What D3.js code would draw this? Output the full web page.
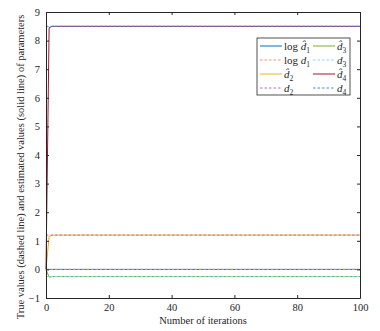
<!DOCTYPE html>
<html>
<head>
<meta charset="utf-8">
<script src="https://cdn.jsdelivr.net/npm/d3@7"></script>
<style>
  body { margin: 0; background: #fff; }
  text { font-family: "Liberation Serif", "DejaVu Serif", serif; fill: #262626; }
</style>
</head>
<body>
<div id="chart"></div>
<script>
// iterations where the estimates are sampled (flat after convergence)
let iters = [0, 1, 2, 3, 100];

// estimated values (solid lines)
let estD1 = [0, 0, 0, 0, 0];
let estD2 = [0, 1.15, 1.2, 1.2, 1.2];
let estD3 = [0, -0.27, -0.25, -0.25, -0.25];
let estD4 = [0, 8.45, 8.5, 8.5, 8.5];

// true values (dashed lines)
let trueD1 = 0;
let trueD2 = 1.2;
let trueD3 = -0.25;
let trueD4 = 8.5;

let xTicks = [0, 20, 40, 60, 80, 100];
let yTicks = [-1, 0, 1, 2, 3, 4, 5, 6, 7, 8, 9];

let series = [
  {name: "log d̂", sub: "1", values: estD1, color: "#0072BD", dash: null},
  {name: "log d", sub: "1", value: trueD1, color: "#F0906E", dash: "2.5,2"},
  {name: "d̂", sub: "2", values: estD2, color: "#EDB120", dash: null},
  {name: "d", sub: "2", value: trueD2, color: "#B070C0", dash: "2.5,2"},
  {name: "d̂", sub: "3", values: estD3, color: "#77AC30", dash: null},
  {name: "d", sub: "3", value: trueD3, color: "#8FD6F2", dash: "2.5,2"},
  {name: "d̂", sub: "4", values: estD4, color: "#A2142F", dash: null},
  {name: "d", sub: "4", value: trueD4, color: "#3A8FD6", dash: "2.5,2"}
];

let margin = {top: 12, right: 20, bottom: 33, left: 46};
let width = 380, height = 331;
let w = width - margin.left - margin.right;
let h = height - margin.top - margin.bottom;

let svg = d3.select("#chart").append("svg")
    .attr("width", width)
    .attr("height", height);

let g = svg.append("g")
    .attr("transform", "translate(" + margin.left + "," + margin.top + ")");

let x = d3.scaleLinear().domain([0, 100]).range([0, w]);
let y = d3.scaleLinear().domain([-1, 9]).range([h, 0]);

let line = d3.line()
    .x(function(d) { return x(d[0]); })
    .y(function(d) { return y(d[1]); });

// lines in legend order
series.forEach(function(s) {
  let pts = s.values ? iters.map(function(t, i) { return [t, s.values[i]]; })
                     : [[0, s.value], [100, s.value]];
  g.append("path")
    .attr("d", line(pts))
    .attr("fill", "none")
    .attr("stroke", s.color)
    .attr("stroke-width", 1)
    .attr("stroke-dasharray", s.dash);
});

// axes with inward ticks, box on
let tickLen = 3;
let axisColor = "#262626";

g.append("g")
  .attr("transform", "translate(0," + h + ")")
  .call(d3.axisBottom(x).tickValues(xTicks).tickSizeInner(-tickLen).tickSizeOuter(0).tickPadding(6));
g.append("g")
  .call(d3.axisTop(x).tickValues(xTicks).tickSizeInner(-tickLen).tickSizeOuter(0).tickFormat(""));
g.append("g")
  .call(d3.axisLeft(y).tickValues(yTicks).tickSizeInner(-tickLen).tickSizeOuter(0).tickPadding(6));
g.append("g")
  .attr("transform", "translate(" + w + ",0)")
  .call(d3.axisRight(y).tickValues(yTicks).tickSizeInner(-tickLen).tickSizeOuter(0).tickFormat(""));

g.selectAll(".domain").attr("stroke", axisColor).attr("stroke-width", 1);
g.selectAll(".tick line").attr("stroke", axisColor);
g.selectAll(".tick text")
  .attr("font-size", 10.5)
  .attr("fill", axisColor);

// axis labels
svg.append("text")
  .attr("x", margin.left + w / 2)
  .attr("y", 324)
  .attr("text-anchor", "middle")
  .attr("font-size", 10.5)
  .text("Number of iterations");

svg.append("text")
  .attr("transform", "translate(24," + (margin.top + h / 2 + 12) + ") rotate(-90)")
  .attr("text-anchor", "middle")
  .attr("font-size", 10.5)
  .text("True values (dashed line) and estimated values (solid line) of parameters");

// legend
let legend = svg.append("g").attr("transform", "translate(257,38)");
legend.append("rect")
  .attr("width", 93)
  .attr("height", 57)
  .attr("fill", "#fff")
  .attr("stroke", "#262626")
  .attr("stroke-width", 0.8);

series.forEach(function(s, i) {
  // MATLAB fills columns first: first 4 entries in column 1
  let col = i < 4 ? 0 : 1;
  let row = i % 4;
  let lx = col === 0 ? 3 : 56;
  let ly = 8 + row * 14;
  let item = legend.append("g").attr("transform", "translate(" + lx + "," + ly + ")");
  item.append("line")
    .attr("x1", 0).attr("x2", 22)
    .attr("y1", 0).attr("y2", 0)
    .attr("stroke", s.color)
    .attr("stroke-width", 1)
    .attr("stroke-dasharray", s.dash);
  let t = item.append("text")
    .attr("x", 24)
    .attr("y", 4)
    .attr("font-size", 11);
  let parts = s.name.split(" ");
  if (parts.length > 1) {
    t.append("tspan").text(parts[0] + " ");
  }
  t.append("tspan").attr("font-style", "italic").text(parts[parts.length - 1]);
  t.append("tspan").attr("font-size", 7.5).attr("dy", 2.5).text(s.sub);
});
</script>
</body>
</html>
